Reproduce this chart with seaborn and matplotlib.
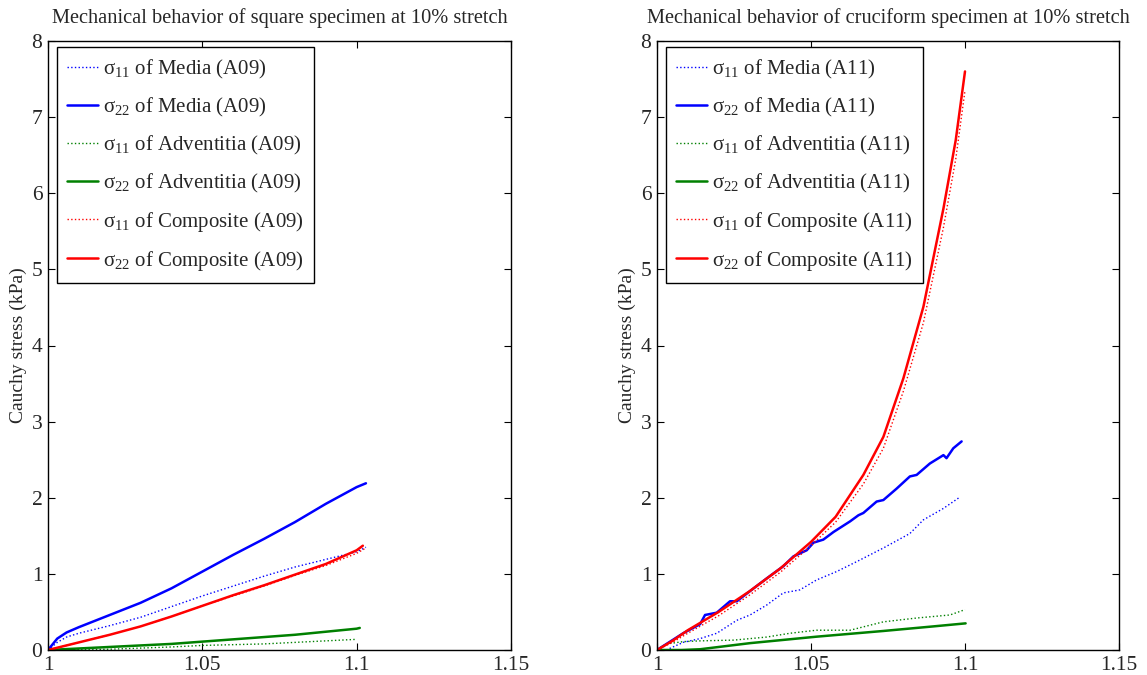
import numpy as np
import pandas as pd
import matplotlib
matplotlib.use("Agg")
import matplotlib.pyplot as plt
import seaborn as sns

# ---------------- data: square specimen (A09) ----------------
sq_media_s22_x = [1.0, 1.003, 1.006, 1.01, 1.02, 1.03, 1.04, 1.05, 1.06, 1.07, 1.08, 1.09, 1.1, 1.103]
sq_media_s22_y = [0.0, 0.15, 0.23, 0.30, 0.46, 0.62, 0.81, 1.03, 1.25, 1.46, 1.68, 1.92, 2.14, 2.19]
sq_media_s11_x = [1.0, 1.003, 1.006, 1.01, 1.02, 1.03, 1.04, 1.05, 1.06, 1.07, 1.08, 1.09, 1.1, 1.103]
sq_media_s11_y = [0.0, 0.10, 0.17, 0.22, 0.32, 0.43, 0.57, 0.71, 0.84, 0.97, 1.09, 1.19, 1.29, 1.35]
sq_adv_s11_x = [1.0, 1.02, 1.04, 1.05, 1.06, 1.07, 1.08, 1.09, 1.1]
sq_adv_s11_y = [0.0, 0.01, 0.04, 0.06, 0.07, 0.08, 0.10, 0.12, 0.14]
sq_adv_s22_x = [1.0, 1.01, 1.02, 1.03, 1.04, 1.05, 1.06, 1.07, 1.08, 1.09, 1.1, 1.101]
sq_adv_s22_y = [0.0, 0.02, 0.04, 0.06, 0.08, 0.11, 0.14, 0.17, 0.20, 0.24, 0.28, 0.29]
sq_comp_s11_x = [1.0, 1.01, 1.02, 1.03, 1.04, 1.05, 1.06, 1.07, 1.08, 1.09, 1.1, 1.103]
sq_comp_s11_y = [0.0, 0.10, 0.20, 0.31, 0.44, 0.58, 0.71, 0.84, 0.98, 1.11, 1.27, 1.34]
sq_comp_s22_x = [1.0, 1.01, 1.02, 1.03, 1.04, 1.05, 1.06, 1.07, 1.08, 1.09, 1.1, 1.102]
sq_comp_s22_y = [0.0, 0.10, 0.20, 0.31, 0.44, 0.58, 0.72, 0.85, 0.99, 1.13, 1.31, 1.37]

# ---------------- data: cruciform specimen (A11) ----------------
cr_media_s11_x = [1.003, 1.0085, 1.014, 1.0194, 1.0259, 1.0302, 1.0356, 1.041, 1.0464, 1.0518,
                  1.0583, 1.0648, 1.0735, 1.0821, 1.0865, 1.093, 1.0984]
cr_media_s11_y = [0.0, 0.10, 0.15, 0.22, 0.39, 0.46, 0.59, 0.75, 0.79, 0.92,
                  1.03, 1.16, 1.34, 1.53, 1.71, 1.86, 2.01]
cr_media_s22_x = [1.0, 1.0031, 1.0085, 1.014, 1.0156, 1.0194, 1.0237, 1.0259, 1.0291, 1.0356,
                  1.041, 1.0443, 1.0486, 1.0508, 1.054, 1.0573, 1.0627, 1.0654, 1.067, 1.0713,
                  1.0735, 1.0778, 1.0821, 1.0843, 1.0886, 1.093, 1.094, 1.0962, 1.0989]
cr_media_s22_y = [0.0, 0.08, 0.22, 0.34, 0.46, 0.49, 0.64, 0.64, 0.74, 0.94,
                  1.10, 1.23, 1.31, 1.41, 1.45, 1.55, 1.69, 1.77, 1.80, 1.95,
                  1.97, 2.12, 2.28, 2.30, 2.45, 2.56, 2.52, 2.65, 2.74]
cr_adv_s11_x = [1.0, 1.0031, 1.0085, 1.014, 1.025, 1.0356, 1.0432, 1.0518, 1.0627, 1.0735, 1.0843, 1.0951, 1.1]
cr_adv_s11_y = [0.0, 0.08, 0.11, 0.12, 0.13, 0.17, 0.22, 0.26, 0.26, 0.37, 0.42, 0.46, 0.53]
cr_adv_s22_x = [1.0, 1.008, 1.014, 1.0302, 1.0518, 1.0735, 1.0897, 1.1002]
cr_adv_s22_y = [0.0, 0.0, 0.01, 0.09, 0.175, 0.25, 0.31, 0.35]
cr_comp_s11_x = [1.0, 1.005, 1.01, 1.02, 1.03, 1.04, 1.05, 1.058, 1.067, 1.0735, 1.08, 1.0865, 1.093, 1.097, 1.1]
cr_comp_s11_y = [0.0, 0.10, 0.22, 0.45, 0.72, 1.02, 1.37, 1.68, 2.18, 2.65, 3.40, 4.30, 5.55, 6.45, 7.35]
cr_comp_s22_x = [1.0, 1.005, 1.01, 1.02, 1.03, 1.04, 1.05, 1.058, 1.067, 1.0735, 1.08, 1.0865, 1.093, 1.097, 1.1]
cr_comp_s22_y = [0.0, 0.12, 0.26, 0.50, 0.77, 1.07, 1.42, 1.75, 2.30, 2.80, 3.57, 4.51, 5.80, 6.70, 7.60]

x_ticks = [1, 1.05, 1.1, 1.15]
x_tick_labels = ["1", "1.05", "1.1", "1.15"]
y_ticks = [0, 1, 2, 3, 4, 5, 6, 7, 8]

titles = ["Mechanical behavior of square specimen at 10% stretch",
          "Mechanical behavior of cruciform specimen at 10% stretch"]
ylabel = "Cauchy stress (kPa)"

BLUE, GREEN, RED = "#0000ff", "#008000", "#ff0000"

sns.set_theme(style="ticks")
plt.rcParams["font.family"] = ["Liberation Serif", "DejaVu Serif"]
plt.rcParams["mathtext.fontset"] = "custom"
plt.rcParams["mathtext.rm"] = "Liberation Serif"
plt.rcParams["mathtext.it"] = "Liberation Serif"
plt.rcParams["mathtext.default"] = "regular"
plt.rcParams["xtick.direction"] = "in"
plt.rcParams["ytick.direction"] = "in"
plt.rcParams["xtick.top"] = True
plt.rcParams["ytick.right"] = True
plt.rcParams["axes.edgecolor"] = "black"
plt.rcParams["axes.linewidth"] = 1.0

fig = plt.figure(figsize=(11.47, 6.75), dpi=100)
axL = fig.add_axes([48 / 1147, 25 / 675, 463 / 1147, 609 / 675])
axR = fig.add_axes([657 / 1147, 25 / 675, 462 / 1147, 609 / 675])

def series(ax, x, y, label, color, dotted):
    df = pd.DataFrame({"x": x, "y": y})
    sns.lineplot(data=df, x="x", y="y", ax=ax, color=color, label=label,
                 sort=False, estimator=None,
                 linestyle=":" if dotted else "-",
                 linewidth=1.0 if dotted else 1.8)

sets = [
    (axL, "A09", [(sq_media_s11_x, sq_media_s11_y), (sq_media_s22_x, sq_media_s22_y),
                  (sq_adv_s11_x, sq_adv_s11_y), (sq_adv_s22_x, sq_adv_s22_y),
                  (sq_comp_s11_x, sq_comp_s11_y), (sq_comp_s22_x, sq_comp_s22_y)]),
    (axR, "A11", [(cr_media_s11_x, cr_media_s11_y), (cr_media_s22_x, cr_media_s22_y),
                  (cr_adv_s11_x, cr_adv_s11_y), (cr_adv_s22_x, cr_adv_s22_y),
                  (cr_comp_s11_x, cr_comp_s11_y), (cr_comp_s22_x, cr_comp_s22_y)]),
]
names = ["Media", "Media", "Adventitia", "Adventitia", "Composite", "Composite"]
subs = ["11", "22", "11", "22", "11", "22"]
colors = [BLUE, BLUE, GREEN, GREEN, RED, RED]

for i, (ax, tag, data) in enumerate(sets):
    for (x, y), nm, sb, c in zip(data, names, subs, colors):
        lab = "σ$_{%s}$ of %s (%s)" % (sb, nm, tag)
        series(ax, x, y, lab, c, sb == "11")
    ax.set_xlim(1, 1.15)
    ax.set_ylim(0, 8)
    ax.set_xticks(x_ticks)
    ax.set_xticklabels(x_tick_labels)
    ax.set_yticks(y_ticks)
    ax.tick_params(labelsize=15.5, length=5, width=0.8, color="black", pad=4)
    ax.set_xlabel("")
    ax.set_ylabel(ylabel, fontsize=14, labelpad=3)
    ax.set_title(titles[i], fontsize=14.7, pad=13)
    for s in ax.spines.values():
        s.set_visible(True)
        s.set_color("black")
    leg = ax.legend(loc="upper left", bbox_to_anchor=(0.019, 0.99), borderaxespad=0,
                    fontsize=15, frameon=True, fancybox=False, framealpha=1,
                    edgecolor="black", handlelength=1.5, handletextpad=0.2,
                    labelspacing=0.72, borderpad=0.5)
    leg.get_frame().set_linewidth(1.0)

fig.savefig("out.png", dpi=100)
